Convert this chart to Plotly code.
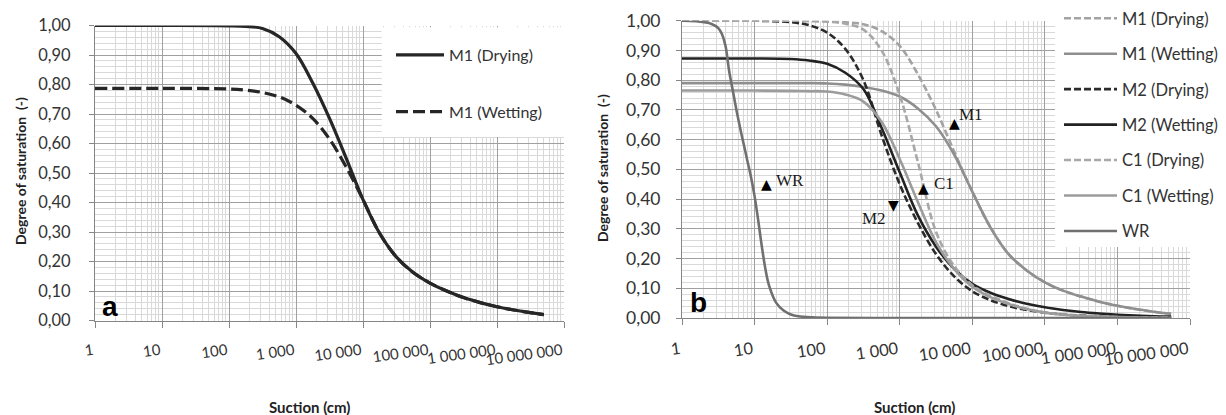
import math
import plotly.graph_objects as go

# ---------------- data: panel a ----------------
suction_a = [1, 10, 100, 178, 316, 562, 1000, 1778, 3162, 5623, 10000, 17783, 31623, 56234,
             100000, 177828, 316228, 562341, 1000000, 1778279, 3162278, 5000000]
m1_drying_a = [1.000, 1.000, 0.999, 0.997, 0.990, 0.962, 0.905, 0.805, 0.685, 0.550, 0.410, 0.295,
               0.215, 0.163, 0.127, 0.100, 0.078, 0.061, 0.047, 0.036, 0.027, 0.020]
m1_wetting_a = [0.787, 0.787, 0.785, 0.781, 0.773, 0.758, 0.730, 0.685, 0.615, 0.520, 0.410, 0.295,
                0.215, 0.163, 0.127, 0.100, 0.078, 0.061, 0.047, 0.036, 0.027, 0.020]

# ---------------- data: panel b ----------------
suction_b = [1, 10, 31.6, 56.2, 100, 178, 316, 562, 1000, 1778, 3162, 5623, 10000, 17783, 31623,
             56234, 100000, 177828, 316228, 562341, 1000000, 1778279, 3162278, 5500000]
m1_drying_b = [1.000, 1.000, 1.000, 0.999, 0.998, 0.995, 0.988, 0.965, 0.915, 0.820, 0.700, 0.560,
               0.425, 0.305, 0.215, 0.160, 0.120, 0.092, 0.072, 0.055, 0.041, 0.030, 0.021, 0.014]
m1_wetting_b = [0.790, 0.790, 0.790, 0.790, 0.789, 0.785, 0.777, 0.765, 0.745, 0.705, 0.645, 0.550,
                0.425, 0.305, 0.215, 0.160, 0.120, 0.092, 0.072, 0.055, 0.041, 0.030, 0.021, 0.014]
m2_drying_b = [1.000, 1.000, 0.995, 0.985, 0.960, 0.905, 0.800, 0.615, 0.450, 0.320, 0.215, 0.140,
               0.090, 0.060, 0.040, 0.027, 0.018, 0.012, 0.008, 0.006, 0.004, 0.003, 0.002, 0.002]
m2_wetting_b = [0.873, 0.873, 0.871, 0.866, 0.855, 0.825, 0.770, 0.640, 0.490, 0.345, 0.240, 0.165,
                0.115, 0.085, 0.064, 0.048, 0.036, 0.027, 0.020, 0.015, 0.011, 0.008, 0.006, 0.005]
c1_drying_b = [1.000, 1.000, 1.000, 0.999, 0.997, 0.990, 0.970, 0.900, 0.750, 0.525, 0.290, 0.175,
               0.110, 0.075, 0.050, 0.031, 0.019, 0.012, 0.007, 0.005, 0.003, 0.002, 0.0015, 0.001]
c1_wetting_b = [0.765, 0.765, 0.764, 0.763, 0.762, 0.752, 0.728, 0.660, 0.535, 0.390, 0.255, 0.165,
                0.105, 0.070, 0.047, 0.030, 0.018, 0.011, 0.007, 0.005, 0.003, 0.002, 0.0015, 0.001]
suction_wr = [1, 1.58, 2.51, 3.16, 3.55, 3.98, 4.47, 5.01, 5.62, 6.31, 7.08, 7.94, 8.91, 10, 11.2,
              12.6, 14.1, 15.8, 20, 25.1, 31.6, 39.8, 63.1, 100, 1000, 10000, 100000, 1000000, 5500000]
wr_b = [1.000, 0.998, 0.990, 0.975, 0.955, 0.915, 0.830, 0.765, 0.700, 0.640, 0.585, 0.530, 0.475,
        0.410, 0.330, 0.240, 0.165, 0.110, 0.050, 0.025, 0.012, 0.006, 0.002, 0.0005, 0, 0, 0, 0, 0]

# ---------------- axis ticks ----------------
x_tick_vals = [1, 10, 100, 1000, 10000, 100000, 1000000, 10000000]
x_tick_text = ["1", "10", "100", "1 000", "10 000", "100 000", "1 000 000", "10 000 000"]
x_minor_vals = [m * d for d in [1, 10, 100, 1000, 10000, 100000, 1000000] for m in range(2, 10)]
y_tick_vals = [0.0, 0.1, 0.2, 0.3, 0.4, 0.5, 0.6, 0.7, 0.8, 0.9, 1.0]
y_tick_text = ["0,00", "0,10", "0,20", "0,30", "0,40", "0,50", "0,60", "0,70", "0,80", "0,90", "1,00"]

# ---------------- annotation labels (panel b) ----------------
curve_labels = ["WR", "M1", "C1", "M2"]
label_suction = [18.5, 6150, 2750, 690]
label_sr = [0.464, 0.686, 0.451, 0.336]
marker_suction = [14.4, 5620, 2140, 810]
marker_sr = [0.45, 0.656, 0.437, 0.38]
marker_glyph = ["▲", "▲", "▲", "▼"]

# the page body has an 8px margin: size the figure so that it ends at the window edge
OFF = 8
W, H = 1226 - OFF, 415 - OFF
def px_x(p):
    return (p - OFF) / W
def px_y(p):
    return 1 - (p - OFF) / H

FONT = "Lato"
TXT = "#333333"

fig = go.Figure()

# panel a traces
fig.add_trace(go.Scatter(x=suction_a, y=m1_drying_a, mode="lines", name="M1 (Drying)",
                         line=dict(color="#262626", width=3.2, shape="spline"),
                         xaxis="x", yaxis="y", legend="legend", legendgroup="a1"))
fig.add_trace(go.Scatter(x=suction_a, y=m1_wetting_a, mode="lines", name="M1 (Wetting)",
                         line=dict(color="#262626", width=3.2, dash="12px,5px", shape="spline"),
                         xaxis="x", yaxis="y", legend="legend", legendgroup="a2"))

# panel b traces
b_series = [
    ("M1 (Drying)", suction_b, m1_drying_b, "#a3a3a3", "7px,3px"),
    ("M1 (Wetting)", suction_b, m1_wetting_b, "#8f8f8f", None),
    ("M2 (Drying)", suction_b, m2_drying_b, "#2b2b2b", "7px,3px"),
    ("M2 (Wetting)", suction_b, m2_wetting_b, "#222222", None),
    ("C1 (Drying)", suction_b, c1_drying_b, "#a8a8a8", "7px,3px"),
    ("C1 (Wetting)", suction_b, c1_wetting_b, "#9c9c9c", None),
    ("WR", suction_wr, wr_b, "#707070", None),
]
for i, (name, xs, ys, col, dash) in enumerate(b_series):
    line = dict(color=col, width=2.6, shape="spline")
    if dash:
        line["dash"] = dash
    fig.add_trace(go.Scatter(x=xs, y=ys, mode="lines", name=name, line=line,
                             xaxis="x2", yaxis="y2", legend="legend2", legendgroup="b%d" % i))

def xaxis_cfg(dom, anchor, fsize, standoff):
    return dict(domain=dom, anchor=anchor, type="log", range=[0, 7],
                tickmode="array", tickvals=x_tick_vals, ticktext=x_tick_text, tickangle=-8,
                ticks="outside", ticklen=6, tickcolor="#868686", tickwidth=1,
                showline=True, linecolor="#868686", linewidth=1,
                showgrid=True, gridcolor="#a0a0a0", gridwidth=1, zeroline=False,
                minor=dict(tickmode="array", tickvals=x_minor_vals, showgrid=True,
                           gridcolor="#d9d9d9", gridwidth=1, ticks=""),
                tickfont=dict(family=FONT, size=fsize, color=TXT),
                ticklabelstandoff=standoff, ticklabelshift=-2, automargin=False, fixedrange=True)

def yaxis_cfg(dom, anchor, fsize, standoff):
    return dict(domain=dom, anchor=anchor, range=[0, 1],
                tickmode="array", tickvals=y_tick_vals, ticktext=y_tick_text,
                ticks="outside", ticklen=5, tickcolor="#868686", tickwidth=1,
                showline=True, linecolor="#868686", linewidth=1,
                showgrid=True, gridcolor="#a0a0a0", gridwidth=1, zeroline=False,
                minor=dict(dtick=0.02, tick0=0, showgrid=True, gridcolor="#d9d9d9", gridwidth=1, ticks=""),
                tickfont=dict(family=FONT, size=fsize, color=TXT),
                ticklabelstandoff=standoff, automargin=False, fixedrange=True)

annotations = []
# axis titles
for cx, cy in [(310, 407), (915, 407)]:
    annotations.append(dict(text="<b>Suction (cm)</b>", x=px_x(cx), y=px_y(cy), xref="paper", yref="paper",
                            showarrow=False, font=dict(family=FONT, size=15, color="#222222"),
                            xanchor="center", yanchor="middle"))
for cx, cy in [(21, 171), (603, 168)]:
    annotations.append(dict(text="<b>Degree of saturation  (-)</b>", x=px_x(cx), y=px_y(cy), xref="paper",
                            yref="paper", showarrow=False, textangle=-90,
                            font=dict(family=FONT, size=14, color="#222222"),
                            xanchor="center", yanchor="middle"))
# panel letters
for t, cx, cy in [("a", 110, 306), ("b", 698, 302)]:
    annotations.append(dict(text="<b>%s</b>" % t, x=px_x(cx), y=px_y(cy), xref="paper", yref="paper",
                            showarrow=False, font=dict(family="Liberation Sans", size=28, color="#000000"),
                            xanchor="center", yanchor="middle"))
# curve labels with triangle markers
for lab, ls, lsr, ms, msr, g in zip(curve_labels, label_suction, label_sr, marker_suction, marker_sr, marker_glyph):
    annotations.append(dict(text=g, x=math.log10(ms), y=msr, xref="x2", yref="y2", showarrow=False,
                            font=dict(family="DejaVu Sans", size=14, color="#000000"),
                            xanchor="center", yanchor="middle"))
    annotations.append(dict(text=lab, x=math.log10(ls), y=lsr, xref="x2", yref="y2", showarrow=False,
                            font=dict(family="Liberation Serif", size=17, color="#1a1a1a"),
                            xanchor="right" if lab == "M2" else "left", yanchor="middle"))

# white legend panels covering the grid (axis coords)
shapes = [
    dict(type="rect", xref="x", yref="y", x0=19055, x1=10000000, y0=0.622, y1=0.994,
         fillcolor="white", line=dict(width=0), layer="between"),
    dict(type="rect", xref="x2", yref="y2", x0=138000, x1=11000000, y0=0.239, y1=1.01,
         fillcolor="white", line=dict(width=0), layer="between"),
]

fig.update_layout(
    width=W, height=H, margin=dict(l=0, r=0, t=0, b=0, autoexpand=False),
    paper_bgcolor="white", plot_bgcolor="white",
    xaxis=xaxis_cfg([px_x(95), px_x(564)], "y", 15, 9),
    yaxis=yaxis_cfg([px_y(320.6), px_y(25.5)], "x", 16.5, 15),
    xaxis2=xaxis_cfg([px_x(682), px_x(1190)], "y2", 16.5, 9),
    yaxis2=yaxis_cfg([px_y(318), px_y(20.7)], "x2", 17.5, 12),
    legend=dict(x=px_x(391), y=px_y(38), xanchor="left", yanchor="top", bgcolor="rgba(0,0,0,0)",
                font=dict(family=FONT, size=16, color=TXT), itemwidth=48, tracegroupgap=33,
                traceorder="grouped"),
    legend2=dict(x=px_x(1059), y=px_y(1), xanchor="left", yanchor="top", bgcolor="rgba(0,0,0,0)",
                 font=dict(family=FONT, size=16.5, color=TXT), itemwidth=53, tracegroupgap=11,
                 traceorder="grouped", maxheight=400),
    annotations=annotations, shapes=shapes, showlegend=True,
)

fig.write_html("out.html")
